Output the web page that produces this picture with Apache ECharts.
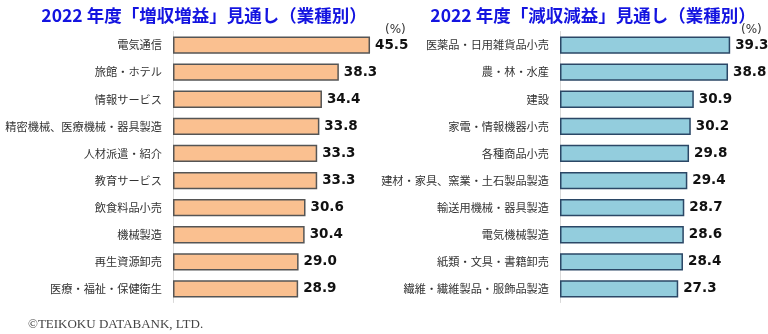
<!DOCTYPE html>
<html><head><meta charset="utf-8">
<script src="https://cdn.jsdelivr.net/npm/echarts@6/dist/echarts.min.js"></script>
<style>html,body{margin:0;padding:0;background:#fff}#c{width:768px;height:334px}</style>
</head><body><div id="c"></div>
<script>
const leftTitle = '2022 年度「増収増益」見通し（業種別）';
const rightTitle = '2022 年度「減収減益」見通し（業種別）';
const leftCategories = ['電気通信','旅館・ホテル','情報サービス','精密機械、医療機械・器具製造','人材派遣・紹介','教育サービス','飲食料品小売','機械製造','再生資源卸売','医療・福祉・保健衛生'];
const leftValues = [45.5,38.3,34.4,33.8,33.3,33.3,30.6,30.4,29.0,28.9];
const rightCategories = ['医薬品・日用雑貨品小売','農・林・水産','建設','家電・情報機器小売','各種商品小売','建材・家具、窯業・土石製品製造','輸送用機械・器具製造','電気機械製造','紙類・文具・書籍卸売','繊維・繊維製品・服飾品製造'];
const rightValues = [39.3,38.8,30.9,30.2,29.8,29.4,28.7,28.6,28.4,27.3];
const unitLabel = '(%)';
const credit = '©TEIKOKU DATABANK, LTD.';

const jp = '"Noto Sans CJK JP", "Noto Sans", sans-serif';
const chart = echarts.init(document.getElementById('c'), null, {renderer:'canvas'});
function yAx(idx, cats){
  return {type:'category', gridIndex:idx, data:cats, inverse:true,
    axisLine:{show:true, lineStyle:{color:'#d9d9d9', width:1}},
    axisTick:{show:false},
    axisLabel:{color:'#333', fontSize:11.2, fontFamily:jp, margin:11}};
}
function xAx(idx){
  return {type:'value', gridIndex:idx, min:0, max:46, show:false, splitLine:{show:false}};
}
function ser(idx, vals, fill, border){
  return {type:'bar', xAxisIndex:idx, yAxisIndex:idx, data:vals, barCategoryGap:'36%',
    itemStyle:{color:fill, borderColor:border, borderWidth:1.5},
    label:{show:true, position:'right', distance:5, color:'#111', fontSize:13.5, fontWeight:'bold',
      fontFamily:'"DejaVu Sans", Verdana, sans-serif', formatter:p=>p.value.toFixed(1)},
    silent:true, animation:false};
}
chart.setOption({
  animation:false,
  title:[
    {text:leftTitle, left:199, top:2, textAlign:'center', textStyle:{color:'#1414e0', fontSize:17.5, fontWeight:'bold', fontFamily:jp}},
    {text:rightTitle, left:588, top:2, textAlign:'center', textStyle:{color:'#1414e0', fontSize:17.5, fontWeight:'bold', fontFamily:jp}}
  ],
  grid:[
    {left:173, top:31.5, width:199.2, height:271, outerBoundsMode:'none', containLabel:false},
    {left:560, top:31.5, width:199.2, height:271, outerBoundsMode:'none', containLabel:false}
  ],
  xAxis:[xAx(0), xAx(1)],
  yAxis:[yAx(0,leftCategories), yAx(1,rightCategories)],
  series:[ser(0,leftValues,'#FAC090','#555555'), ser(1,rightValues,'#93CDDD','#2B4766')],
  graphic:[
    {type:'text', left:385, top:24, style:{text:unitLabel, fill:'#333', font:'12px "DejaVu Sans", sans-serif'}},
    {type:'text', left:741, top:24, style:{text:unitLabel, fill:'#333', font:'12px "DejaVu Sans", sans-serif'}},
    {type:'text', left:28, top:318, style:{text:credit, fill:'#444', font:'13px "Liberation Serif", "Times New Roman", serif'}}
  ]
});
</script></body></html>
